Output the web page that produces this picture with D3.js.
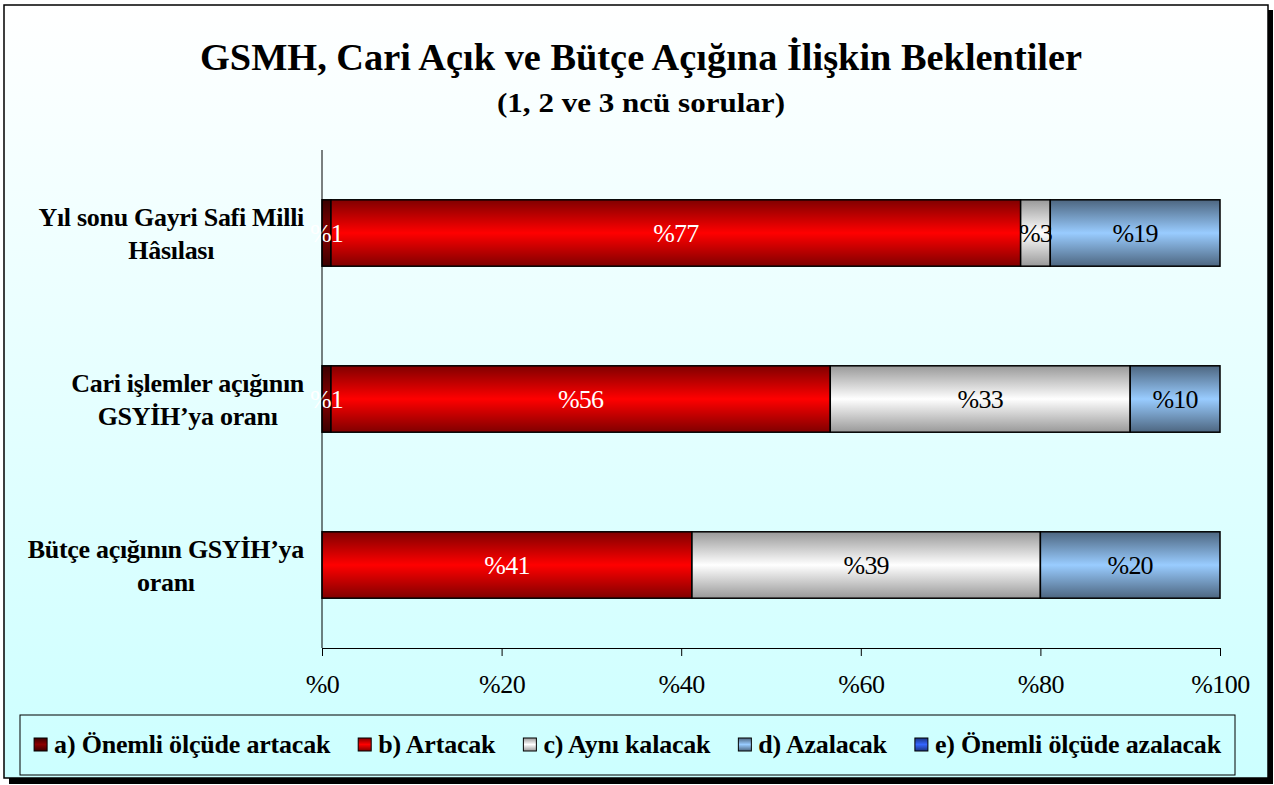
<!DOCTYPE html>
<html>
<head>
<meta charset="utf-8">
<script src="https://cdn.jsdelivr.net/npm/d3@7"></script>
<style>
  body { margin: 0; background: #fff; }
  svg { display: block; font-family: "Liberation Serif", "Times New Roman", serif; }
</style>
</head>
<body>
<div id="chart"></div>
<script>
// categories (each label split into its display lines)
const categoryLines = [
    ["Yıl sonu Gayri Safi Milli", "Hâsılası"],
    ["Cari işlemler açığının", "GSYİH’ya oranı"],
    ["Bütçe açığının GSYİH’ya", "oranı"]
];
const seriesNames = [
    "a) Önemli ölçüde artacak",
    "b) Artacak",
    "c) Aynı kalacak",
    "d) Azalacak",
    "e) Önemli ölçüde azalacak"
];
// series values (%), one per category
const onemliArtacak = [1.0, 1.0, 0];
const artacak = [76.8, 55.6, 41.2];
const ayniKalacak = [3.3, 33.4, 38.8];
const azalacak = [18.9, 10.0, 20.0];
const onemliAzalacak = [0, 0, 0];
const xTicks = [0, 20, 40, 60, 80, 100];

const seriesValues = [onemliArtacak, artacak, ayniKalacak, azalacak, onemliAzalacak];
// gradient colours: edge, centre
const seriesColors = [
    ["#3a0000", "#8a0000"],
    ["#800000", "#ff0000"],
    ["#999999", "#ffffff"],
    ["#4d6680", "#99ccff"],
    ["#1a3380", "#3366ff"]
];
const labelColors = ["#fff", "#fff", "#000", "#000", "#fff"];

const width = 1274, height = 785;
const plot = {left: 322, right: 1220, top: 150, bottom: 648};

const svg = d3.select("#chart").append("svg")
    .attr("width", width)
    .attr("height", height);

const defs = svg.append("defs");
const bg = defs.append("linearGradient").attr("id", "bg")
    .attr("x1", 0).attr("y1", 0).attr("x2", 0).attr("y2", 1);
bg.append("stop").attr("offset", "0%").attr("stop-color", "#ffffff");
bg.append("stop").attr("offset", "100%").attr("stop-color", "#ccffff");

seriesColors.forEach((c, i) => {
    const g = defs.append("linearGradient").attr("id", "grad" + i)
        .attr("x1", 0).attr("y1", 0).attr("x2", 0).attr("y2", 1);
    g.append("stop").attr("offset", "0%").attr("stop-color", c[0]);
    g.append("stop").attr("offset", "50%").attr("stop-color", c[1]);
    g.append("stop").attr("offset", "100%").attr("stop-color", c[0]);
});

// frame with shadow
svg.append("rect").attr("x", 9).attr("y", 10).attr("width", 1264).attr("height", 774).attr("fill", "#000");
svg.append("rect").attr("x", 4).attr("y", 5).attr("width", 1264).attr("height", 773)
    .attr("fill", "url(#bg)").attr("stroke", "#000").attr("stroke-width", 1.5);

// titles
svg.append("text")
    .attr("x", 641).attr("y", 70)
    .attr("text-anchor", "middle")
    .attr("font-size", 37).attr("font-weight", "bold")
    .attr("textLength", 882).attr("lengthAdjust", "spacingAndGlyphs")
    .text("GSMH, Cari Açık ve Bütçe Açığına İlişkin Beklentiler");
svg.append("text")
    .attr("x", 641).attr("y", 112)
    .attr("text-anchor", "middle")
    .attr("font-size", 28).attr("font-weight", "bold")
    .attr("textLength", 288).attr("lengthAdjust", "spacingAndGlyphs")
    .text("(1, 2 ve 3 ncü sorular)");

// scales
const x = d3.scaleLinear().domain([0, 100]).range([plot.left, plot.right]);
const y = d3.scaleBand().domain(d3.range(categoryLines.length)).range([plot.top, plot.bottom]);
const barH = y.bandwidth() * 0.4;

// stacked data
const stackData = categoryLines.map((_, ci) => {
    let acc = 0;
    return seriesValues.map((vals, si) => {
        const d = {cat: ci, series: si, value: vals[ci], x0: acc, x1: acc + vals[ci]};
        acc += vals[ci];
        return d;
    });
}).flat().filter(d => d.value > 0);

const bars = svg.append("g");
bars.selectAll("rect")
    .data(stackData)
    .enter()
    .append("rect")
    .attr("x", d => x(d.x0))
    .attr("y", d => y(d.cat) + (y.bandwidth() - barH) / 2)
    .attr("width", d => x(d.x1) - x(d.x0))
    .attr("height", barH)
    .attr("fill", d => `url(#grad${d.series})`)
    .attr("stroke", "#000")
    .attr("stroke-width", 1.5);

bars.selectAll("text")
    .data(stackData)
    .enter()
    .append("text")
    .attr("x", d => (x(d.x0) + x(d.x1)) / 2)
    .attr("y", d => y(d.cat) + y.bandwidth() / 2)
    .attr("dy", "0.35em")
    .attr("text-anchor", "middle")
    .attr("font-size", 26)
    .attr("letter-spacing", -0.8)
    .attr("fill", d => labelColors[d.series])
    .text(d => "%" + Math.round(d.value));

// y axis line
svg.append("line")
    .attr("x1", plot.left).attr("x2", plot.left)
    .attr("y1", plot.top).attr("y2", plot.bottom)
    .attr("stroke", "#000");

// category labels
categoryLines.forEach((lines, i) => {
    const g = svg.append("g");
    const texts = g.selectAll("text")
        .data(lines)
        .enter()
        .append("text")
        .attr("y", (d, j) => y(i) + y.bandwidth() / 2 + (j - (lines.length - 1) / 2) * 33)
        .attr("dy", "0.35em")
        .attr("text-anchor", "middle")
        .attr("font-size", 26)
        .attr("font-weight", "bold")
        .attr("letter-spacing", -0.3)
        .text(d => d);
    const maxW = d3.max(texts.nodes(), n => n.getComputedTextLength());
    texts.attr("x", 304 - maxW / 2);
});

// x axis
const xAxis = svg.append("g")
    .attr("transform", `translate(0, ${plot.bottom})`)
    .call(d3.axisBottom(x).tickValues(xTicks).tickFormat(d => "%" + d).tickSize(8).tickSizeOuter(0).tickPadding(19));
xAxis.select(".domain").attr("stroke", "#000");
xAxis.selectAll(".tick line").attr("stroke", "#000");
xAxis.selectAll("text")
    .attr("font-family", "'Liberation Serif', 'Times New Roman', serif")
    .attr("font-size", 26)
    .attr("letter-spacing", -0.5)
    .attr("fill", "#000");

// legend
const legend = svg.append("g");
legend.append("rect")
    .attr("x", 20).attr("y", 715).attr("width", 1215).attr("height", 60)
    .attr("fill", "none").attr("stroke", "#000");
const items = legend.append("g");
let lx = 0;
seriesNames.forEach((name, i) => {
    const it = items.append("g").attr("transform", `translate(${lx}, 0)`);
    it.append("rect")
        .attr("x", 0).attr("y", 738).attr("width", 13).attr("height", 13)
        .attr("fill", `url(#grad${i})`).attr("stroke", "#000");
    const t = it.append("text")
        .attr("x", 20).attr("y", 753)
        .attr("font-size", 26)
        .attr("font-weight", "bold")
        .attr("letter-spacing", -0.2)
        .text(name);
    lx += 20 + t.node().getComputedTextLength() + 28;
});
const totalW = lx - 28;
items.attr("transform", `translate(${20 + (1215 - totalW) / 2}, 0)`);
</script>
</body>
</html>
